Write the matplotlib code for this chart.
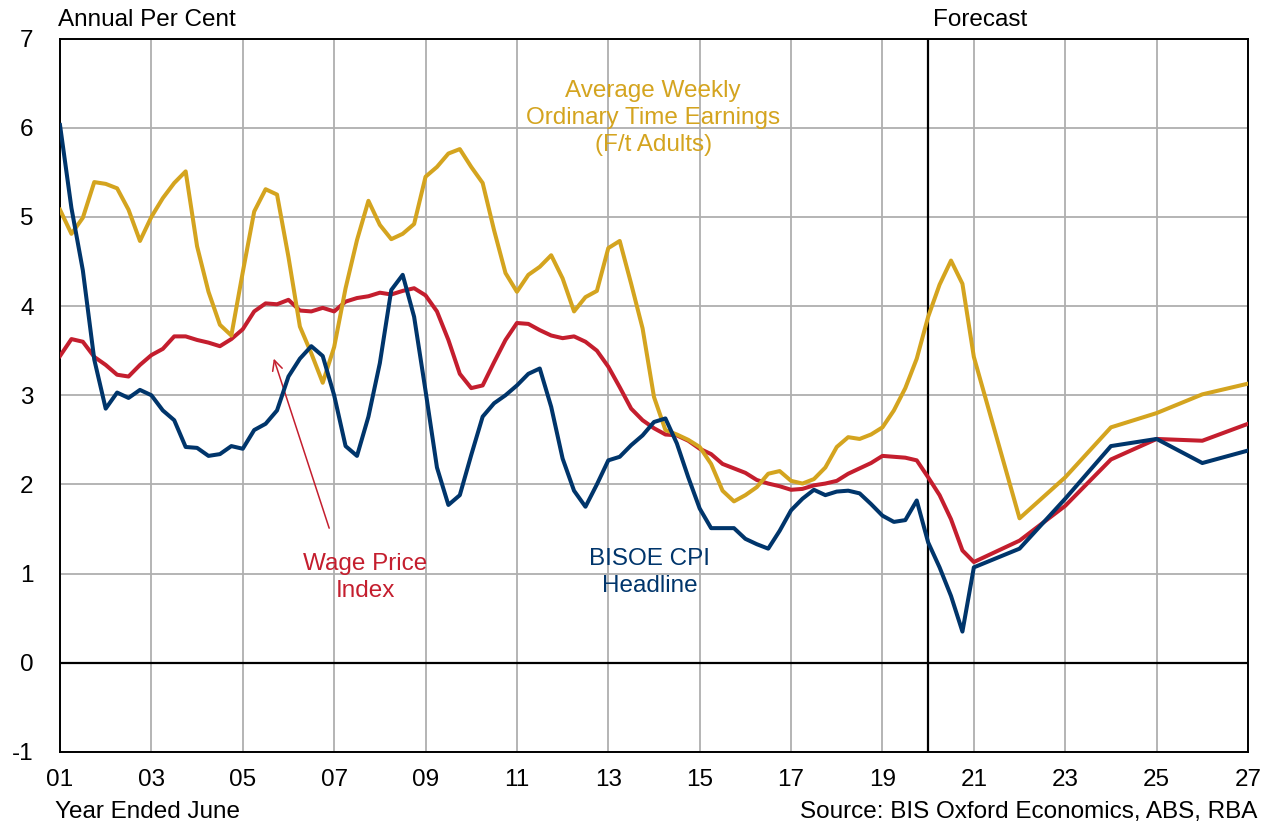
import numpy as np
import matplotlib
matplotlib.use("Agg")
import matplotlib.pyplot as plt

plt.rcParams['font.family'] = ['Liberation Sans', 'DejaVu Sans']
plt.rcParams['axes.unicode_minus'] = False

# quarterly history, year ended June 2001 .. June 2021
hist_x = np.arange(2001, 2021.01, 0.25)

cpi = [6.03, 5.10, 4.40, 3.40, 2.85, 3.03, 2.97, 3.06, 3.00, 2.83,
       2.72, 2.42, 2.41, 2.32, 2.34, 2.43, 2.40, 2.61, 2.68, 2.83,
       3.21, 3.41, 3.55, 3.44, 3.00, 2.43, 2.32, 2.76, 3.36, 4.18,
       4.35, 3.88, 3.05, 2.19, 1.77, 1.88, 2.33, 2.76, 2.91, 3.00,
       3.11, 3.24, 3.30, 2.87, 2.29, 1.93, 1.75, 2.00, 2.27, 2.31,
       2.44, 2.55, 2.70, 2.74, 2.46, 2.08, 1.73, 1.51, 1.51, 1.51,
       1.39, 1.33, 1.28, 1.48, 1.71, 1.84, 1.94, 1.88, 1.92, 1.93,
       1.90, 1.78, 1.65, 1.58, 1.60, 1.82, 1.35, 1.07, 0.75, 0.35, 1.07]

wpi = [3.44, 3.63, 3.60, 3.43, 3.34, 3.23, 3.21, 3.34, 3.45, 3.52,
       3.66, 3.66, 3.62, 3.59, 3.55, 3.63, 3.74, 3.94, 4.03, 4.02,
       4.07, 3.95, 3.94, 3.98, 3.94, 4.05, 4.09, 4.11, 4.15, 4.13,
       4.17, 4.20, 4.12, 3.94, 3.62, 3.24, 3.08, 3.11, 3.37, 3.62,
       3.81, 3.80, 3.73, 3.67, 3.64, 3.66, 3.60, 3.50, 3.32, 3.09,
       2.85, 2.72, 2.63, 2.56, 2.55, 2.49, 2.40, 2.34, 2.23, 2.18,
       2.13, 2.05, 2.01, 1.98, 1.94, 1.95, 1.99, 2.01, 2.04, 2.12,
       2.18, 2.24, 2.32, 2.31, 2.30, 2.27, 2.08, 1.88, 1.61, 1.26, 1.13]

awote = [5.08, 4.81, 4.99, 5.39, 5.37, 5.32, 5.08, 4.73, 5.00, 5.21,
         5.38, 5.51, 4.67, 4.16, 3.79, 3.67, 4.38, 5.06, 5.31, 5.25,
         4.55, 3.77, 3.47, 3.14, 3.54, 4.20, 4.74, 5.18, 4.91, 4.75,
         4.81, 4.92, 5.45, 5.56, 5.71, 5.76, 5.56, 5.38, 4.85, 4.37,
         4.16, 4.35, 4.44, 4.57, 4.31, 3.94, 4.10, 4.17, 4.65, 4.73,
         4.25, 3.75, 2.98, 2.61, 2.56, 2.50, 2.42, 2.23, 1.93, 1.81,
         1.88, 1.97, 2.12, 2.15, 2.04, 2.01, 2.06, 2.19, 2.42, 2.53,
         2.51, 2.56, 2.64, 2.83, 3.08, 3.41, 3.88, 4.24, 4.51, 4.25, 3.43]

# annual forecasts, year ended June
fc_years = [2022, 2023, 2024, 2025, 2026, 2027]
cpi_fc = [1.28, 1.84, 2.43, 2.51, 2.24, 2.38]
wpi_fc = [1.37, 1.76, 2.28, 2.51, 2.49, 2.68]
awote_fc = [1.62, 2.08, 2.64, 2.80, 3.01, 3.13]

tick_years = list(range(2001, 2028, 2))
tick_labels = ['%02d' % (y % 100) for y in tick_years]
forecast_start = 2020

navy = '#00356B'
red = '#C41E2E'
gold = '#D4A41F'
fs = 17.5

x_all = list(hist_x) + fc_years

fig = plt.figure(figsize=(12.72, 8.25), dpi=100)
ax = fig.add_axes([60/1272, (825-752)/825, 1188/1272, (752-38.5)/825])

ax.plot(x_all, wpi + wpi_fc, color=red, lw=2.9, zorder=3)
ax.plot(x_all, awote + awote_fc, color=gold, lw=2.9, zorder=4)
ax.plot(x_all, cpi + cpi_fc, color=navy, lw=2.9, zorder=5)

ax.set_xlim(2001, 2027)
ax.set_ylim(-1, 7)
ax.set_xticks(tick_years)
ax.set_xticklabels(tick_labels)
ax.set_yticks(range(-1, 8))
ax.tick_params(length=0, labelsize=fs, pad=12)
ax.tick_params(axis='y', pad=19)
for lab in ax.get_yticklabels():
    lab.set_horizontalalignment('right')
ax.grid(True, color='#AFAFAF', lw=1.3)
ax.set_axisbelow(True)
for s in ax.spines.values():
    s.set_color('black')
    s.set_linewidth(1.4)
ax.axhline(0, color='black', lw=1.6, zorder=2)
ax.axvline(forecast_start, color='black', lw=1.6, zorder=2)

ax.text(2013.98, 6.11, 'Average Weekly\nOrdinary Time Earnings\n(F/t Adults)',
        color=gold, fontsize=fs, ha='center', va='center', linespacing=1.3)
ax.text(2007.68, 0.96, 'Wage Price\nIndex', color=red, fontsize=fs,
        ha='center', va='center', linespacing=1.3)
ax.text(2013.91, 1.01, 'BISOE CPI\nHeadline', color=navy, fontsize=fs,
        ha='center', va='center', linespacing=1.3)
ax.annotate('', xy=(2005.66, 3.44), xytext=(2006.91, 1.48),
            arrowprops=dict(arrowstyle='->', color=red, lw=1.1,
                            mutation_scale=18))

fig.text(58/1272, 1 - 20/825, 'Annual Per Cent', fontsize=fs, va='center', ha='left')
fig.text(980/1272, 1 - 20/825, 'Forecast', fontsize=fs, va='center', ha='center')
fig.text(55/1272, 1 - 812/825, 'Year Ended June', fontsize=fs, va='center', ha='left')
fig.text(1257/1272, 1 - 812/825, 'Source: BIS Oxford Economics, ABS, RBA',
         fontsize=fs, va='center', ha='right')

fig.savefig('out.png', dpi=100)
